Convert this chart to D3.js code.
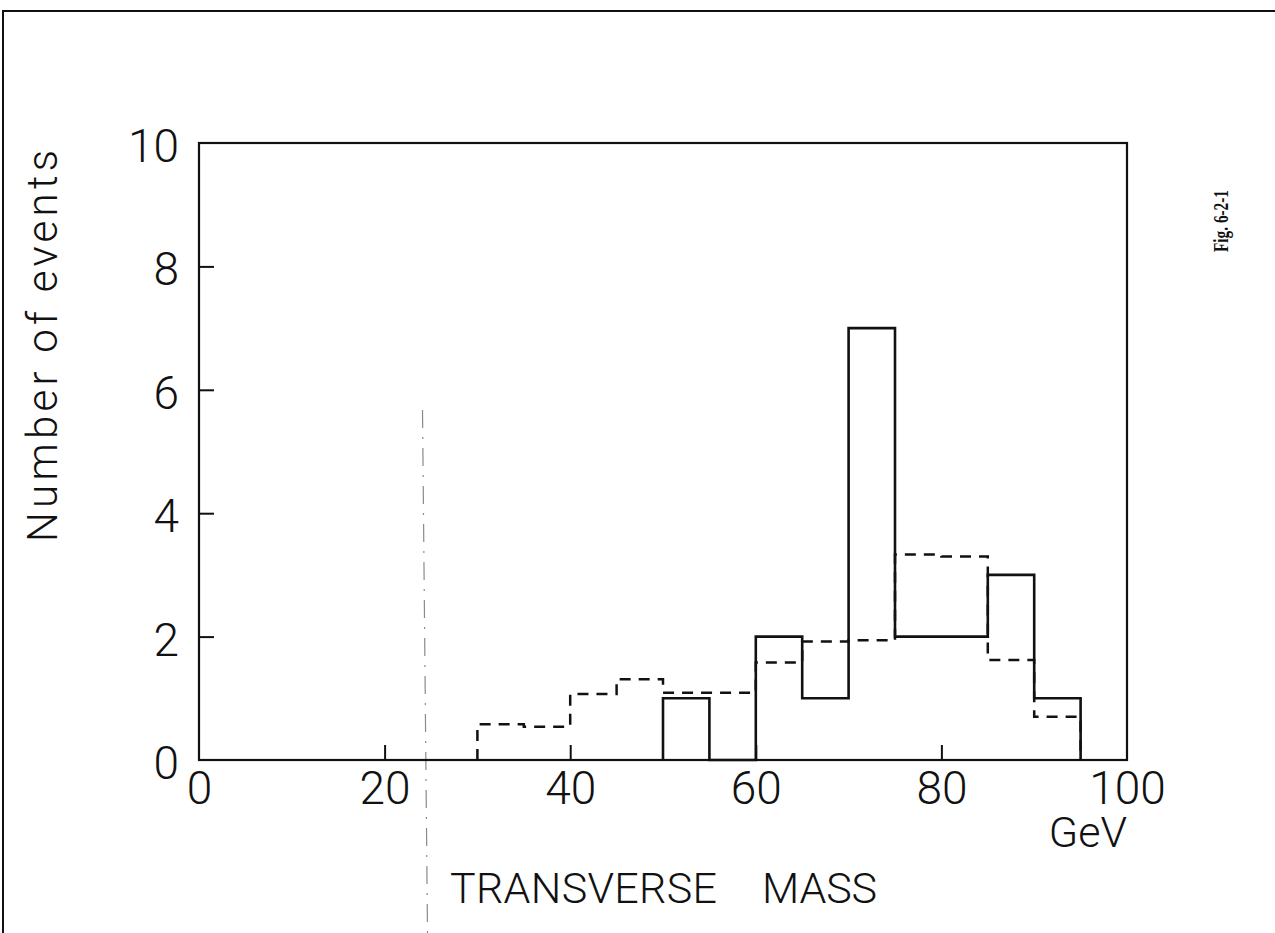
<!DOCTYPE html>
<html>
<head>
<meta charset="utf-8">
<script src="https://cdn.jsdelivr.net/npm/d3@7"></script>
<style>
  html, body { margin: 0; padding: 0; background: #fff; }
  svg { display: block; }
  .lbl { font-family: Roboto, "Liberation Sans", sans-serif; font-weight: 300; fill: #111; }
</style>
</head>
<body>
<svg id="chart" width="1275" height="933"></svg>
<script>
// Transverse mass histogram: lower edges of 5 GeV bins
const binLow = [30, 35, 40, 45, 50, 55, 60, 65, 70, 75, 80, 85, 90];
const binWidth = 5;
// Observed events per bin (solid)
const observed = [0, 0, 0, 0, 1, 0, 2, 1, 7, 2, 2, 3, 1];
// Expected distribution (dashed)
const expected = [0.58, 0.54, 1.07, 1.31, 1.09, 1.09, 1.58, 1.92, 1.94, 3.33, 3.30, 1.62, 0.70];
// Axis ticks
const xTicks = [0, 20, 40, 60, 80, 100];
const yTicks = [0, 2, 4, 6, 8, 10];
// Lower mass cut marker (GeV)
const massCut = 24.3;

const svg = d3.select("#chart");
const W = 1275, H = 933;

const x = d3.scaleLinear().domain([0, 100]).range([199, 1127]);
const y = d3.scaleLinear().domain([0, 10]).range([760, 143]);

// page border (top and left edges)
svg.append("path")
  .attr("d", `M3,${H} L3,11 L${W},11`)
  .attr("fill", "none").attr("stroke", "#111").attr("stroke-width", 2);

// mass cut marker, dash-dot, running below the frame
svg.append("line")
  .attr("x1", x(massCut) - 2).attr("x2", x(massCut) + 3)
  .attr("y1", 410).attr("y2", H)
  .attr("stroke", "#8a8a8a").attr("stroke-width", 1.2)
  .attr("stroke-dasharray", "18,9,2,9");

// x axis: ticks pointing inward
const xAxis = svg.append("g")
  .attr("transform", `translate(0,${y(0)})`)
  .call(d3.axisBottom(x).tickValues(xTicks).tickSize(-15).tickPadding(11).tickFormat(d3.format("d")));
xAxis.select(".domain").remove();
xAxis.selectAll(".tick line")
  .attr("stroke", "#111").attr("stroke-width", 2)
  .attr("display", d => (d === 0 || d === 100) ? "none" : null);
xAxis.selectAll(".tick text")
  .attr("class", "lbl").attr("font-size", 46).attr("fill", "#111");

// y axis: ticks pointing inward
const yAxis = svg.append("g")
  .attr("transform", `translate(${x(0)},0)`)
  .call(d3.axisLeft(y).tickValues(yTicks).tickSize(-15).tickPadding(20).tickFormat(d3.format("d")));
yAxis.select(".domain").remove();
yAxis.selectAll(".tick line")
  .attr("stroke", "#111").attr("stroke-width", 2)
  .attr("display", d => (d === 0 || d === 10) ? "none" : null);
yAxis.selectAll(".tick text")
  .attr("class", "lbl").attr("font-size", 46).attr("fill", "#111")
  .attr("dy", "0.40em");

// plot frame
svg.append("rect")
  .attr("x", x(0)).attr("y", y(10))
  .attr("width", x(100) - x(0)).attr("height", y(0) - y(10))
  .attr("fill", "none").attr("stroke", "#111").attr("stroke-width", 2.2);

// step outline of a histogram, starting at a given bin index
function stepPoints(vals, start) {
  const pts = [[binLow[start], 0]];
  binLow.forEach((lo, i) => {
    if (i < start) return;
    pts.push([lo, vals[i]]);
    pts.push([lo + binWidth, vals[i]]);
  });
  pts.push([binLow[binLow.length - 1] + binWidth, 0]);
  return pts;
}
const line = d3.line().x(d => x(d[0])).y(d => y(d[1]));

svg.append("path")
  .attr("d", line(stepPoints(expected, 0)))
  .attr("fill", "none").attr("stroke", "#111").attr("stroke-width", 2.5)
  .attr("stroke-dasharray", "11,8");

svg.append("path")
  .attr("d", line(stepPoints(observed, observed.findIndex(v => v > 0))))
  .attr("fill", "none").attr("stroke", "#111").attr("stroke-width", 2.6);

// axis titles
svg.append("text").attr("class", "lbl")
  .attr("x", x(100)).attr("y", 847)
  .attr("text-anchor", "end").attr("font-size", 43)
  .text("GeV");

const xTitle = svg.append("text").attr("class", "lbl")
  .attr("y", 903).attr("font-size", 43);
xTitle.append("tspan").attr("x", 450)
  .attr("textLength", 267).attr("lengthAdjust", "spacing")
  .text("TRANSVERSE");
xTitle.append("tspan").attr("x", 762)
  .attr("textLength", 115).attr("lengthAdjust", "spacing")
  .text("MASS");

svg.append("text").attr("class", "lbl")
  .attr("transform", "translate(57,542) rotate(-90)")
  .attr("font-size", 42)
  .attr("textLength", 392).attr("lengthAdjust", "spacing")
  .text("Number of events");

// figure number
svg.append("text")
  .attr("transform", "translate(1228,252) rotate(-90)")
  .attr("font-family", "'Liberation Serif', 'Times New Roman', serif")
  .attr("font-weight", "bold").attr("font-size", 21).attr("fill", "#111")
  .attr("textLength", 62).attr("lengthAdjust", "spacingAndGlyphs")
  .text("Fig. 6-2-1");
</script>
</body>
</html>
